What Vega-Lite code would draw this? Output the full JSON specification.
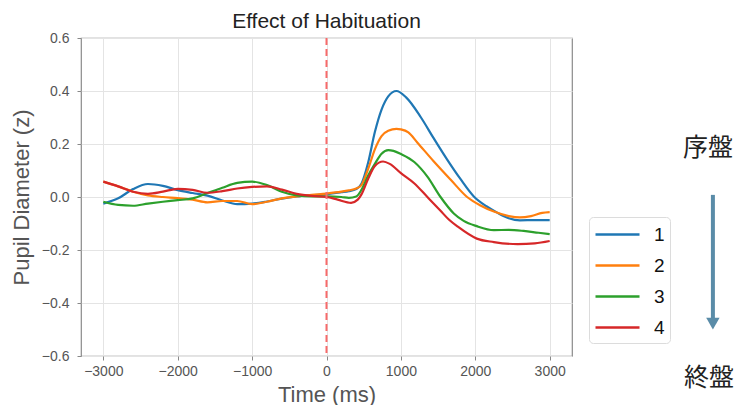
{
  "$schema": "https://vega.github.io/schema/vega-lite/v6.json",
  "width": 491,
  "height": 318,
  "autosize": "none",
  "padding": {"left": 81, "top": 38, "right": 166, "bottom": 49},
  "background": "white",
  "config": {
    "font": "Liberation Sans",
    "view": {"stroke": "#8a8a8a", "strokeWidth": 1.2},
    "axis": {
      "grid": true, "gridColor": "#e4e4e4", "gridWidth": 1,
      "domain": false, "tickColor": "#888", "tickSize": 4,
      "labelFont": "Liberation Sans", "labelFontSize": 14, "labelColor": "#555",
      "titleFont": "Liberation Sans", "titleFontSize": 22, "titleFontWeight": "normal", "titleColor": "#555"
    }
  },
  "title": {"text": "Effect of Habituation", "fontSize": 21, "fontWeight": "normal", "color": "#222", "font": "Liberation Sans", "offset": -1},
  "datasets": {
    "pupil": [
      {"series":"1","t":-3000,"v":-0.025},{"series":"1","t":-2800,"v":-0.005},{"series":"1","t":-2600,"v":0.03},{"series":"1","t":-2400,"v":0.049},{"series":"1","t":-2200,"v":0.042},{"series":"1","t":-2000,"v":0.026},{"series":"1","t":-1800,"v":0.015},{"series":"1","t":-1600,"v":0.005},{"series":"1","t":-1400,"v":-0.013},{"series":"1","t":-1200,"v":-0.027},{"series":"1","t":-1000,"v":-0.025},{"series":"1","t":-800,"v":-0.017},{"series":"1","t":-600,"v":-0.006},{"series":"1","t":-400,"v":0.002},{"series":"1","t":-200,"v":0.007},{"series":"1","t":0,"v":0.011},{"series":"1","t":200,"v":0.018},{"series":"1","t":300,"v":0.022},{"series":"1","t":400,"v":0.03},{"series":"1","t":470,"v":0.05},{"series":"1","t":560,"v":0.13},{"series":"1","t":650,"v":0.245},{"series":"1","t":740,"v":0.33},{"series":"1","t":830,"v":0.38},{"series":"1","t":940,"v":0.4},{"series":"1","t":1070,"v":0.376},{"series":"1","t":1270,"v":0.3},{"series":"1","t":1440,"v":0.222},{"series":"1","t":1620,"v":0.142},{"series":"1","t":1800,"v":0.068},{"series":"1","t":1980,"v":0.002},{"series":"1","t":2150,"v":-0.035},{"series":"1","t":2300,"v":-0.06},{"series":"1","t":2450,"v":-0.08},{"series":"1","t":2600,"v":-0.088},{"series":"1","t":2800,"v":-0.087},{"series":"1","t":3000,"v":-0.087},
      {"series":"2","t":-3000,"v":0.058},{"series":"2","t":-2800,"v":0.04},{"series":"2","t":-2600,"v":0.02},{"series":"2","t":-2400,"v":0.006},{"series":"2","t":-2200,"v":0.0},{"series":"2","t":-2000,"v":-0.004},{"series":"2","t":-1800,"v":-0.01},{"series":"2","t":-1600,"v":-0.02},{"series":"2","t":-1400,"v":-0.015},{"series":"2","t":-1200,"v":-0.015},{"series":"2","t":-1000,"v":-0.027},{"series":"2","t":-800,"v":-0.018},{"series":"2","t":-600,"v":-0.005},{"series":"2","t":-400,"v":0.002},{"series":"2","t":-200,"v":0.008},{"series":"2","t":0,"v":0.013},{"series":"2","t":200,"v":0.02},{"series":"2","t":300,"v":0.025},{"series":"2","t":400,"v":0.032},{"series":"2","t":470,"v":0.045},{"series":"2","t":560,"v":0.106},{"series":"2","t":650,"v":0.18},{"series":"2","t":740,"v":0.23},{"series":"2","t":830,"v":0.25},{"series":"2","t":940,"v":0.257},{"series":"2","t":1000,"v":0.255},{"series":"2","t":1100,"v":0.244},{"series":"2","t":1220,"v":0.206},{"series":"2","t":1440,"v":0.135},{"series":"2","t":1670,"v":0.065},{"series":"2","t":1890,"v":0.0},{"series":"2","t":2070,"v":-0.032},{"series":"2","t":2250,"v":-0.055},{"series":"2","t":2450,"v":-0.072},{"series":"2","t":2600,"v":-0.077},{"series":"2","t":2750,"v":-0.072},{"series":"2","t":2900,"v":-0.06},{"series":"2","t":3000,"v":-0.057},
      {"series":"3","t":-3000,"v":-0.018},{"series":"3","t":-2800,"v":-0.03},{"series":"3","t":-2600,"v":-0.033},{"series":"3","t":-2400,"v":-0.025},{"series":"3","t":-2200,"v":-0.018},{"series":"3","t":-2000,"v":-0.012},{"series":"3","t":-1800,"v":-0.005},{"series":"3","t":-1600,"v":0.015},{"series":"3","t":-1400,"v":0.035},{"series":"3","t":-1200,"v":0.053},{"series":"3","t":-1000,"v":0.058},{"series":"3","t":-800,"v":0.045},{"series":"3","t":-600,"v":0.02},{"series":"3","t":-400,"v":0.006},{"series":"3","t":-200,"v":0.002},{"series":"3","t":0,"v":0.002},{"series":"3","t":200,"v":0.0},{"series":"3","t":300,"v":-0.003},{"series":"3","t":400,"v":0.002},{"series":"3","t":470,"v":0.027},{"series":"3","t":560,"v":0.081},{"series":"3","t":650,"v":0.125},{"series":"3","t":740,"v":0.163},{"series":"3","t":830,"v":0.177},{"series":"3","t":900,"v":0.174},{"series":"3","t":1000,"v":0.162},{"series":"3","t":1180,"v":0.132},{"series":"3","t":1356,"v":0.077},{"series":"3","t":1533,"v":0.0},{"series":"3","t":1711,"v":-0.062},{"series":"3","t":1844,"v":-0.09},{"series":"3","t":2020,"v":-0.11},{"series":"3","t":2250,"v":-0.125},{"series":"3","t":2450,"v":-0.124},{"series":"3","t":2650,"v":-0.128},{"series":"3","t":2850,"v":-0.135},{"series":"3","t":3000,"v":-0.14},
      {"series":"4","t":-3000,"v":0.058},{"series":"4","t":-2800,"v":0.04},{"series":"4","t":-2600,"v":0.02},{"series":"4","t":-2400,"v":0.012},{"series":"4","t":-2200,"v":0.02},{"series":"4","t":-2000,"v":0.031},{"series":"4","t":-1800,"v":0.027},{"series":"4","t":-1600,"v":0.016},{"series":"4","t":-1400,"v":0.022},{"series":"4","t":-1200,"v":0.032},{"series":"4","t":-1000,"v":0.038},{"series":"4","t":-800,"v":0.04},{"series":"4","t":-600,"v":0.028},{"series":"4","t":-400,"v":0.012},{"series":"4","t":-200,"v":0.004},{"series":"4","t":0,"v":0.0},{"series":"4","t":150,"v":-0.01},{"series":"4","t":330,"v":-0.022},{"series":"4","t":420,"v":-0.01},{"series":"4","t":470,"v":0.01},{"series":"4","t":560,"v":0.069},{"series":"4","t":650,"v":0.117},{"series":"4","t":760,"v":0.134},{"series":"4","t":850,"v":0.125},{"series":"4","t":1000,"v":0.09},{"series":"4","t":1178,"v":0.052},{"series":"4","t":1356,"v":0.0},{"series":"4","t":1533,"v":-0.052},{"series":"4","t":1644,"v":-0.085},{"series":"4","t":1765,"v":-0.112},{"series":"4","t":2020,"v":-0.157},{"series":"4","t":2250,"v":-0.17},{"series":"4","t":2570,"v":-0.178},{"series":"4","t":2800,"v":-0.175},{"series":"4","t":3000,"v":-0.166}
    ]
  },
  "layer": [
    {
      "data": {"name": "pupil"},
      "mark": {"type": "line", "strokeWidth": 2.2, "interpolate": "monotone"},
      "encoding": {
        "x": {"field": "t", "type": "quantitative",
          "scale": {"domain": [-3300, 3300], "nice": false, "zero": false},
          "axis": {"title": "Time (ms)", "values": [-3000,-2000,-1000,0,1000,2000,3000], "format": "d", "labelPadding": 4, "titlePadding": 6}},
        "y": {"field": "v", "type": "quantitative",
          "scale": {"domain": [-0.6, 0.6], "nice": false, "zero": false},
          "axis": {"title": "Pupil Diameter (z)", "values": [-0.6,-0.4,-0.2,0,0.2,0.4,0.6], "format": ".1f", "labelPadding": 8, "titlePadding": 8}},
        "color": {"field": "series", "type": "nominal",
          "scale": {"domain": ["1","2","3","4"], "range": ["#1f77b4","#ff7f0e","#2ca02c","#d62728"]},
          "legend": {"orient": "none", "legendX": 508, "legendY": 179, "title": null,
            "symbolType": "M-1,0H3", "symbolStrokeWidth": 2.5, "symbolSize": 484,
            "labelFontSize": 19, "labelFont": "Liberation Sans", "labelColor": "#111",
            "rowPadding": 8, "padding": 5, "labelOffset": 35,
            "strokeColor": "#dcdcdc", "fillColor": "white", "cornerRadius": 4}}
      }
    },
    {
      "data": {"values": [{}]},
      "mark": {"type": "rule", "color": "#f76a6a", "strokeDash": [7, 4], "strokeWidth": 2},
      "encoding": {"x": {"datum": 0}}
    },
    {
      "data": {"values": [{}]},
      "mark": {"type": "text", "text": "序盤", "font": "Noto Sans CJK JP", "fontSize": 25, "color": "#222", "align": "center", "baseline": "middle", "clip": false},
      "encoding": {"x": {"datum": 5127}, "y": {"datum": 0.186}}
    },
    {
      "data": {"values": [{}]},
      "mark": {"type": "text", "text": "終盤", "font": "Noto Sans CJK JP", "fontSize": 25, "color": "#222", "align": "center", "baseline": "middle", "clip": false},
      "encoding": {"x": {"datum": 5140}, "y": {"datum": -0.684}}
    },
    {
      "data": {"values": [{}]},
      "mark": {"type": "rule", "color": "#5a8ca8", "strokeWidth": 4, "clip": false},
      "encoding": {"x": {"datum": 5194}, "y": {"datum": 0.008}, "y2": {"datum": -0.46}}
    },
    {
      "data": {"values": [{}]},
      "mark": {"type": "point", "shape": "triangle-down", "filled": true, "color": "#5a8ca8", "opacity": 1, "size": 180, "clip": false},
      "encoding": {"x": {"datum": 5194}, "y": {"datum": -0.478}}
    }
  ]
}
